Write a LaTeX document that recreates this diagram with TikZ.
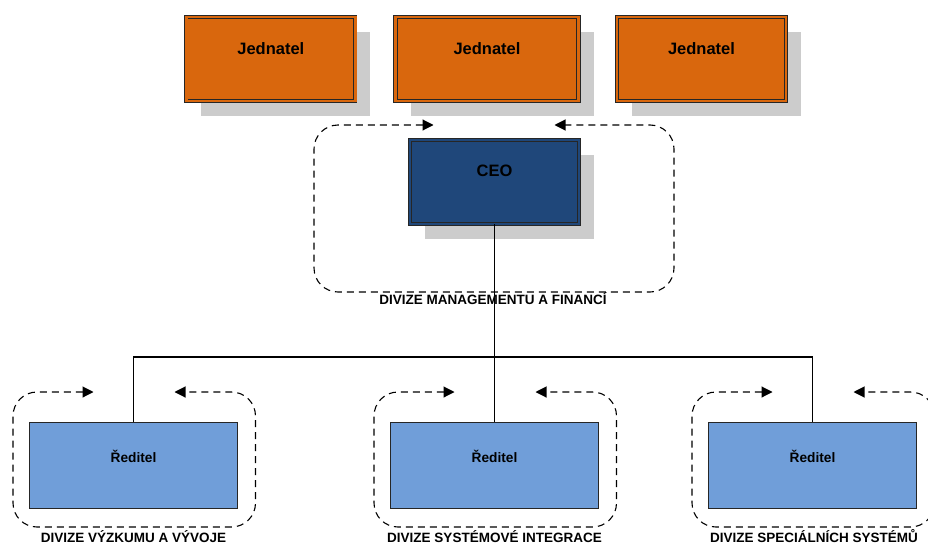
\documentclass[tikz,border=0pt]{standalone}
\usepackage{fontspec}
\setmainfont{Liberation Sans}
\usetikzlibrary{arrows.meta,calc,shadows}

\definecolor{jorange}{RGB}{217,103,13}
\definecolor{ceoblue}{RGB}{31,71,122}
\definecolor{redblue}{RGB}{112,158,217}
\definecolor{shade}{RGB}{204,204,204}

\tikzset{
  headbox/.style={rectangle, draw=black!85, line width=0.9pt, double distance=2.4pt,
    inner sep=0pt, minimum width=169pt, minimum height=84pt,
    general shadow={fill=shade, shadow xshift=15pt, shadow yshift=-15pt},
    font=\fontsize{16.5}{18}\selectfont\bfseries},
  jednatelbox/.style={headbox, fill=jorange, double=jorange, text height=12pt, text depth=20pt},
  ceobox/.style={headbox, fill=ceoblue, double=ceoblue, text height=12pt, text depth=24pt},
  reditelbox/.style={rectangle, draw=black!85, line width=1pt, fill=redblue, inner sep=0pt,
    minimum width=208pt, minimum height=86pt,
    font=\fontsize{13.7}{15}\selectfont\bfseries, text height=10pt, text depth=17pt},
  divloop/.style={dash pattern=on 7pt off 5pt, line width=1.1pt, rounded corners=24pt,
    {Triangle[length=11pt,width=11pt]}-{Triangle[length=11pt,width=11pt]}},
  divlabel/.style={anchor=base, font=\fontsize{13.5}{15}\selectfont\bfseries},
  link/.style={line width=1.1pt}
}

\begin{document}
\begin{tikzpicture}[x=1pt,y=-1pt]
    \useasboundingbox (0,0) rectangle (928,543);

    % Jednatele
    \node[jednatelbox] (j1) at (270.8,59) {Jednatel};
    \node[jednatelbox, minimum width=183pt] (j2) at (487,59) {Jednatel};
    \node[jednatelbox] (j3) at (701.5,59) {Jednatel};

    % CEO and its division
    \node[ceobox] (ceo) at (494.5,182) {CEO};
    \draw[divloop] ($(ceo.center)+(-61,-57)$) -- ($(ceo.center)+(-180.5,-57)$)
        -- ($(ceo.center)+(-180.5,110)$) -- ($(ceo.center)+(179.5,110)$)
        -- ($(ceo.center)+(179.5,-57)$) -- ($(ceo.center)+(60,-57)$);
    \node[divlabel] (l0) at ($(ceo.center)+(-1.5,122)$) {DIVIZE MANAGEMENTU A FINANCÍ};

    % Reditele
    \node[reditelbox] (r1) at (133.5,465.5) {Ředitel};
    \node[reditelbox] (r2) at (494.5,465.5) {Ředitel};
    \node[reditelbox] (r3) at (812.5,465.5) {Ředitel};

    \foreach \r in {r1,r2,r3}
        \draw[divloop] ($(\r.center)+(-40,-73.5)$) -- ($(\r.center)+(-120.5,-73.5)$)
            -- ($(\r.center)+(-120.5,61.5)$) -- ($(\r.center)+(122,61.5)$)
            -- ($(\r.center)+(122,-73.5)$) -- ($(\r.center)+(41,-73.5)$);

    \node[divlabel] (l1) at ($(r1.center)+(0,76.5)$) {DIVIZE VÝZKUMU A VÝVOJE};
    \node[divlabel] (l2) at ($(r2.center)+(0,76.5)$) {DIVIZE SYSTÉMOVÉ INTEGRACE};
    \node[divlabel] (l3) at ($(r3.center)+(1.5,76.5)$) {DIVIZE SPECIÁLNÍCH SYSTÉMŮ};

    % Links
    \coordinate (bus) at (494.5,357);
    \draw[link] (ceo.south) -- (r2.north);
    \draw[link] (r1.north) |- (bus) -| (r3.north);
\end{tikzpicture}
\end{document}
